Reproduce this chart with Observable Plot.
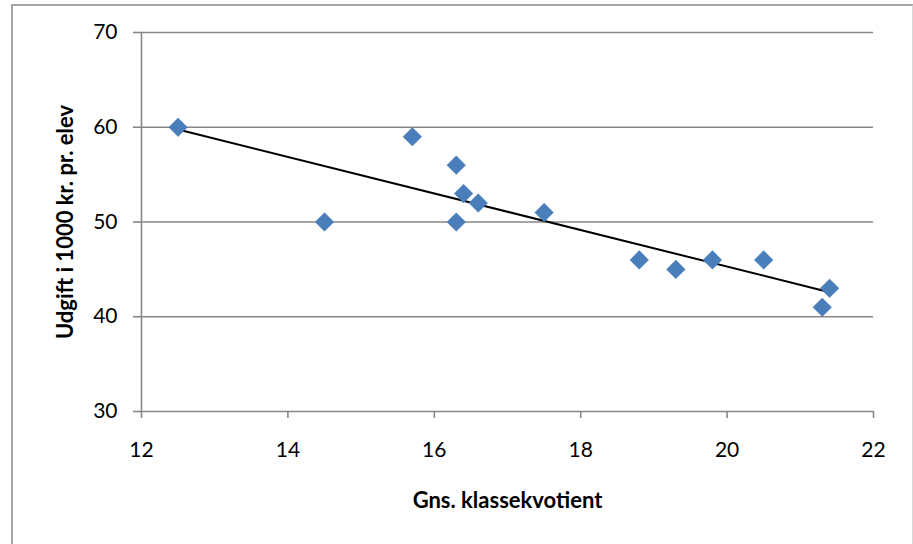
<!DOCTYPE html>
<html>
<head>
<meta charset="utf-8">
<script src="https://cdn.jsdelivr.net/npm/d3@7"></script>
<script src="https://cdn.jsdelivr.net/npm/@observablehq/plot@0.6"></script>
<style>
  html, body { margin: 0; padding: 0; background: #fff; overflow: hidden; }
  #wrap { position: relative; width: 913px; height: 544px; }
  #border { position: absolute; left: 11px; top: 4px; width: 899px; height: 600px;
    border: 2px solid #a6a6a6; border-right-color: #d9d9d9; pointer-events: none; }
</style>
</head>
<body>
<div id="wrap"><div id="border"></div></div>
<script>
const klassekvotient = [12.5, 14.5, 15.7, 16.3, 16.4, 16.6, 16.3, 17.5, 18.8, 19.3, 19.8, 20.5, 21.3, 21.4];
const udgift = [60, 50, 59, 56, 53, 52, 50, 51, 46, 45, 46, 46, 41, 43];
const xTicks = [12, 14, 16, 18, 20, 22];
const yTicks = [30, 40, 50, 60, 70];
const xTitle = "Gns. klassekvotient";
const yTitle = "Udgift i 1000 kr. pr. elev";

const data = klassekvotient.map((x, i) => ({x, y: udgift[i]}));
const gray = "#878787";

const chart = Plot.plot({
  width: 913,
  height: 544,
  marginLeft: 141,
  marginRight: 40,
  marginTop: 32,
  marginBottom: 133,
  style: {fontFamily: "Lato, 'Open Sans', sans-serif", fontSize: "21px", color: "#000", background: "transparent"},
  x: {domain: [12, 22]},
  y: {domain: [30, 70]},
  marks: [
    Plot.gridY(yTicks.filter(d => d > 30), {stroke: gray, strokeOpacity: 1, strokeWidth: 1.6}),
    Plot.ruleY([30], {stroke: gray, strokeWidth: 1.6}),
    Plot.ruleX([12], {stroke: gray, strokeWidth: 1.6}),
    Plot.axisY(yTicks, {tickSize: 8, tickPadding: 16, stroke: gray, strokeWidth: 1.6, label: null, fill: "#000"}),
    Plot.axisX(xTicks, {tickSize: 7, tickPadding: 24, stroke: gray, strokeWidth: 1.6, label: null, fill: "#000"}),
    Plot.linearRegressionY(data, {x: "x", y: "y", ci: 0, stroke: "#000", strokeWidth: 2}),
    Plot.dot(data, {x: "x", y: "y", symbol: "diamond2", r: 8.4, fill: "#4a7ebb", stroke: "#4a7ebb", strokeWidth: 0.5}),
    Plot.text([xTitle], {frameAnchor: "bottom", dy: 89, lineAnchor: "middle", textAnchor: "middle", fontWeight: "bold", fontSize: 22, fill: "#000"}),
    Plot.text([yTitle], {frameAnchor: "left", dx: -76, rotate: -90, lineAnchor: "middle", textAnchor: "middle", fontWeight: "bold", fontSize: 22, fill: "#000"})
  ]
});
document.getElementById("wrap").prepend(chart);
</script>
</body>
</html>
